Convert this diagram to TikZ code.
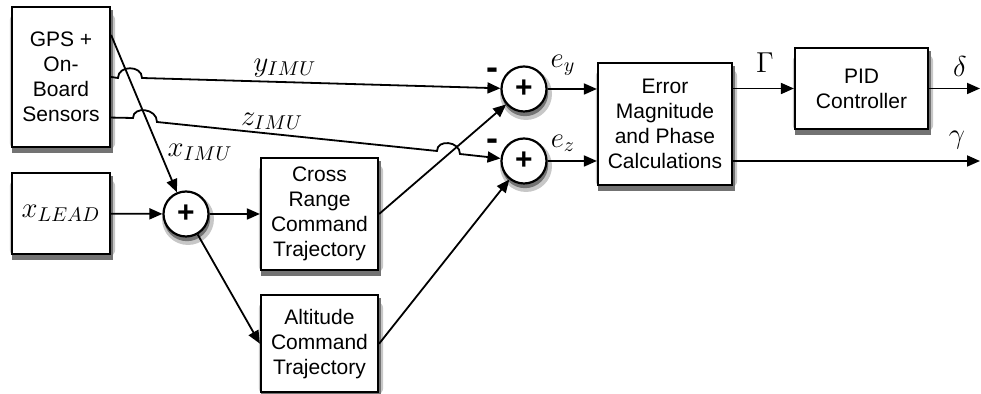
\documentclass[tikz,border=0pt]{standalone}
\usepackage{fontspec}
\setsansfont{Liberation Sans}
\usetikzlibrary{positioning, arrows.meta, backgrounds}

\begin{document}
\begin{tikzpicture}[
    x=0.5pt, y=-0.5pt,
    block/.style={rectangle, draw=black, line width=1.1pt, fill=white, align=center, inner sep=2pt, font=\sffamily\fontsize{10.5}{12.5}\selectfont},
    sumnode/.style={circle, draw=black, line width=1.1pt, fill=white, minimum size=22.5pt, inner sep=0pt, font=\sffamily\bfseries\fontsize{15}{15}\selectfont},
    halo/.style={fill=black!22},
    shadowfill/.style={fill=black!55},
    arrow/.style={-{Triangle[length=6.5pt, width=5.5pt]}, line width=0.9pt},
    lbl/.style={font=\Large, inner sep=0pt},
    minus/.style={font=\sffamily\bfseries\fontsize{18}{18}\selectfont, inner sep=0pt}
]
\useasboundingbox (0,0) rectangle (981,394);

% Sources
\node (gps) [block, minimum width=49pt, minimum height=70pt] at (61,77) {GPS +\\On-\\Board\\Sensors};
\node (lead) [block, minimum width=49pt, minimum height=40.5pt] at (61,213.5) {\Large $x_{LEAD}$};

% Command trajectories
\node (sum) [sumnode] at (186,214) {+};
\node (cross) [block, minimum width=58.5pt, minimum height=56pt] at (319.5,214) {Cross\\Range\\Command\\Trajectory};
\node (alt) [block, minimum width=58.5pt, minimum height=48.5pt, below=11.5pt of cross] {Altitude\\Command\\Trajectory};

% Error junctions
\node (ey) [sumnode] at (524,89) {+};
\node (ez) [sumnode] at (524,161) {+};
\node (eyminus) [minus] at (492,74) {-};
\node (ezminus) [minus] at (492,145) {-};

% Error calculation and controller
\node (err) [block, minimum width=67pt, minimum height=61pt] at (665,124) {Error\\Magnitude\\and Phase\\Calculations};
\node (pid) [block, minimum width=66.5pt, minimum height=40.5pt] at (861.5,88.5) {PID\\Controller};
\coordinate (delta) at (980,88.5);
\coordinate (gamma) at (980,161);

% Shadows
\begin{scope}[on background layer]
\foreach \n in {gps,lead,cross,alt,err,pid} {
    \fill [halo, rounded corners=3pt] ([shift={(-1,1)}]\n.south west) rectangle ([shift={(4,8)}]\n.north east);
    \fill [shadowfill] ([shift={(1,5)}]\n.south west) rectangle ([shift={(2,4)}]\n.north east);
}
\foreach \n in {sum,ey,ez} {
    \fill [halo] ([shift={(2,5)}]\n.center) circle (13pt);
    \fill [shadowfill] ([shift={(1,4)}]\n.center) circle (11.6pt);
}
\end{scope}

% Measured signals
\draw [arrow] (gps.40) -- (sum);
\draw [arrow] (gps.east) -- (118,78) .. controls (118,65) and (142,65) .. (142,78) -- (ey);
\draw [arrow] (gps.-39) -- (133,118) .. controls (133,106) and (157,108) .. (157,122) -- (437,151) .. controls (437,139) and (460,141) .. (460,154) -- (ez);
\node (xlbl) [lbl] at (200,152) {$x_{IMU}$};
\node (ylbl) [lbl] at (285,68) {$y_{IMU}$};
\node (zlbl) [lbl] at (272,121) {$z_{IMU}$};

% Command path
\draw [arrow] (lead) -- (sum);
\draw [arrow] (sum) -- (cross);
\draw [arrow] (sum) -- (alt.west);
\draw [arrow] (cross.east) -- (ey);
\draw [arrow] (alt.east) -- (ez);

% Errors
\draw [arrow] (ey) -- (ey -| err.west);
\draw [arrow] (ez) -- (ez -| err.west);
\node (eylbl) [lbl] at (563,65) {$e_y$};
\node (ezlbl) [lbl] at (563,143) {$e_z$};

% Outputs
\draw [arrow] (pid.west -| err.east) -- (pid.west);
\draw [arrow] (pid) -- (delta);
\draw [arrow] (ez -| err.east) -- (gamma);
\node (glbl) [lbl] at (765,63) {$\Gamma$};
\node (dlbl) [lbl] at (960,67) {$\delta$};
\node (gmlbl) [lbl] at (957,140) {$\gamma$};

\end{tikzpicture}
\end{document}
